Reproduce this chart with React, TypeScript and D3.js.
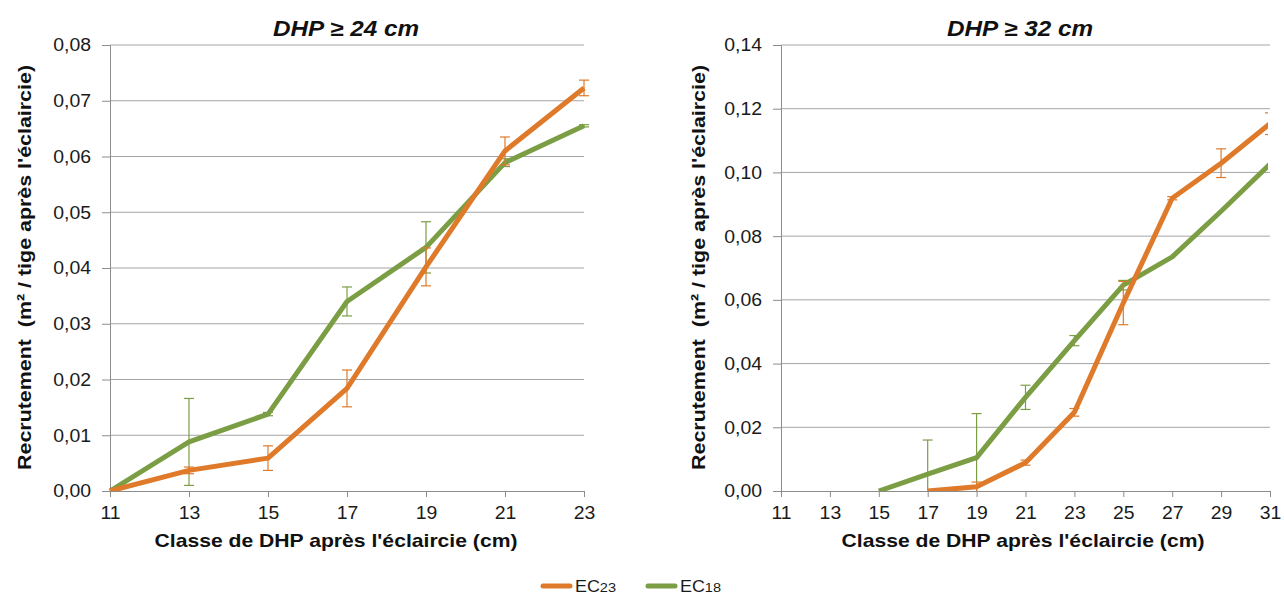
import * as d3 from "d3"
import { useEffect, useRef } from "react"

// Left panel: DHP >= 24 cm
const classesLeft = [11, 13, 15, 17, 19, 21, 23]
const ec23Left = [0, 0.0037, 0.0059, 0.0184, 0.0402, 0.061, 0.0723]
const ec23LeftErr = [0, 0.0006, 0.0022, 0.0033, 0.0034, 0.0025, 0.0014]
const ec18Left = [0, 0.0088, 0.0138, 0.034, 0.0437, 0.0589, 0.0655]
const ec18LeftErr = [0, 0.0078, 0.0003, 0.0026, 0.0046, 0.0007, 0.0002]
const yTicksLeft = [0, 0.01, 0.02, 0.03, 0.04, 0.05, 0.06, 0.07, 0.08]

// Right panel: DHP >= 32 cm
const classesRight = [11, 13, 15, 17, 19, 21, 23, 25, 27, 29, 31]
const ec23Right = [null, null, null, 0, 0.0013, 0.0089, 0.0247, 0.059, 0.0919, 0.1029, 0.1153]
const ec23RightErr = [null, null, null, 0, 0.0015, 0.0008, 0.0012, 0.0068, 0.0005, 0.0045, 0.0034]
const ec18Right = [null, null, 0, 0.0053, 0.0105, 0.0294, 0.0472, 0.0646, 0.0735, 0.0878, 0.1026]
const ec18RightErr = [null, null, 0, 0.0107, 0.0138, 0.0038, 0.0016, 0.0015, 0, 0, 0]
const yTicksRight = [0, 0.02, 0.04, 0.06, 0.08, 0.1, 0.12, 0.14]

const titles = ["DHP ≥ 24 cm", "DHP ≥ 32 cm"]
const xLabel = "Classe de DHP après l'éclaircie (cm)"
const yLabel = "Recrutement \u00a0(m² / tige après l'éclaircie)"

const ORANGE = "#de7a2a"
const GREEN = "#7b9e45"
const FONT = "'Liberation Sans', Arial, sans-serif"
const STRETCH = 1.05

type Panel = {
  classes: number[]
  series: { values: (number | null)[]; err: (number | null)[]; color: string }[]
  yTicks: number[]
  yMax: number
  left: number
  right: number
  title: string
  titleX: number
  xLabelX: number
  yLabelX: number
  clipRight: number
}

const fmt = (d: number) => d.toFixed(2).replace(".", ",")

export default function App() {
  const svgRef = useRef<SVGSVGElement>(null)

  useEffect(() => {
    if (!svgRef.current) return
    const root = d3.select(svgRef.current)
    root.selectAll("*").remove()

    const top = 45
    const bottom = 491

    const panels: Panel[] = [
      {
        classes: classesLeft,
        series: [
          { values: ec18Left, err: ec18LeftErr, color: GREEN },
          { values: ec23Left, err: ec23LeftErr, color: ORANGE },
        ],
        yTicks: yTicksLeft,
        yMax: 0.08,
        left: 110,
        right: 584,
        title: titles[0],
        titleX: 346,
        xLabelX: 336,
        yLabelX: 31,
        clipRight: 600,
      },
      {
        classes: classesRight,
        series: [
          { values: ec18Right, err: ec18RightErr, color: GREEN },
          { values: ec23Right, err: ec23RightErr, color: ORANGE },
        ],
        yTicks: yTicksRight,
        yMax: 0.14,
        left: 781,
        right: 1270,
        title: titles[1],
        titleX: 1020,
        xLabelX: 1023,
        yLabelX: 705,
        clipRight: 1268,
      },
    ]

    panels.forEach((p, pi) => {
      const x = d3.scaleLinear().domain([p.classes[0], p.classes[p.classes.length - 1]]).range([p.left, p.right])
      const y = d3.scaleLinear().domain([0, p.yMax]).range([bottom, top])
      const g = root.append("g")

      // gridlines
      g.append("g")
        .selectAll("line")
        .data(p.yTicks.slice(1))
        .join("line")
        .attr("x1", p.left)
        .attr("x2", p.right)
        .attr("y1", (d) => y(d))
        .attr("y2", (d) => y(d))
        .attr("stroke", "#a5a5a5")
        .attr("stroke-width", 1)

      // y axis
      const yAxis = g.append("g")
        .attr("transform", `translate(${p.left},0)`)
        .call(d3.axisLeft(y).tickValues(p.yTicks).tickFormat((d) => fmt(d as number)).tickSize(8).tickPadding(10))
      yAxis.select(".domain").attr("stroke", "#8c8c8c")
      yAxis.selectAll(".tick line").attr("stroke", "#8c8c8c")
      yAxis.selectAll("text")
        .attr("font-family", FONT)
        .attr("font-size", 18.5)
        .attr("fill", "#1a1a1a")
        .attr("transform", `scale(${STRETCH},1)`)

      // x axis
      const xAxis = g.append("g")
        .attr("transform", `translate(0,${bottom})`)
        .call(d3.axisBottom(x).tickValues(p.classes).tickFormat((d) => String(d)).tickSize(6).tickPadding(9))
      xAxis.select(".domain").attr("stroke", "#8c8c8c")
      xAxis.selectAll(".tick line").attr("stroke", "#8c8c8c")
      xAxis.selectAll("text")
        .attr("font-family", FONT)
        .attr("font-size", 18.5)
        .attr("fill", "#1a1a1a")
        .attr("transform", `scale(${STRETCH},1)`)

      const clipId = `clip${pi}`
      root.append("clipPath").attr("id", clipId)
        .append("rect")
        .attr("x", p.left - 20)
        .attr("y", top - 20)
        .attr("width", p.clipRight - p.left + 20)
        .attr("height", bottom - top + 20)

      const plot = g.append("g").attr("clip-path", `url(#${clipId})`)

      p.series.forEach((s) => {
        const pts = p.classes
          .map((c, i) => ({ c, v: s.values[i], e: s.err[i] }))
          .filter((d) => d.v !== null) as { c: number; v: number; e: number }[]

        const line = d3.line<{ c: number; v: number }>().x((d) => x(d.c)).y((d) => y(d.v))
        plot.append("path")
          .datum(pts)
          .attr("d", line)
          .attr("fill", "none")
          .attr("stroke", s.color)
          .attr("stroke-width", 5)
          .attr("stroke-linejoin", "round")

        // error bars
        const eb = plot.append("g").attr("stroke", s.color).attr("stroke-width", 1.2)
        pts.filter((d) => d.e > 0).forEach((d) => {
          const y1 = y(d.v + d.e)
          const y2 = Math.min(bottom, y(d.v - d.e))
          eb.append("line").attr("x1", x(d.c)).attr("x2", x(d.c)).attr("y1", y1).attr("y2", y2)
          eb.append("line").attr("x1", x(d.c) - 5).attr("x2", x(d.c) + 5).attr("y1", y1).attr("y2", y1)
          if (y(d.v - d.e) <= bottom)
            eb.append("line").attr("x1", x(d.c) - 5).attr("x2", x(d.c) + 5).attr("y1", y2).attr("y2", y2)
        })
      })

      // title
      g.append("text")
        .attr("x", p.titleX)
        .attr("y", 35.5)
        .attr("text-anchor", "middle")
        .attr("font-family", FONT)
        .attr("font-size", 21.5)
        .attr("font-weight", "bold")
        .attr("font-style", "italic")
        .attr("fill", "#111")
        .attr("textLength", 146)
        .attr("lengthAdjust", "spacingAndGlyphs")
        .text(p.title)

      // x label
      g.append("text")
        .attr("x", p.xLabelX)
        .attr("y", 547)
        .attr("text-anchor", "middle")
        .attr("font-family", FONT)
        .attr("font-size", 18.5)
        .attr("font-weight", "bold")
        .attr("fill", "#111")
        .attr("textLength", 363)
        .attr("lengthAdjust", "spacingAndGlyphs")
        .text(xLabel)

      // y label
      g.append("text")
        .attr("transform", `translate(${p.yLabelX},${267.5}) rotate(-90)`)
        .attr("text-anchor", "middle")
        .attr("font-family", FONT)
        .attr("font-size", 18.5)
        .attr("font-weight", "bold")
        .attr("fill", "#111")
        .attr("textLength", 405)
        .attr("lengthAdjust", "spacingAndGlyphs")
        .text(yLabel)
    })

    // legend
    const legendItems = [
      { base: "EC", sub: "23", color: ORANGE, x: 543 },
      { base: "EC", sub: "18", color: GREEN, x: 648 },
    ]
    const lg = root.append("g")
    legendItems.forEach((it) => {
      lg.append("line")
        .attr("x1", it.x)
        .attr("x2", it.x + 27)
        .attr("y1", 586)
        .attr("y2", 586)
        .attr("stroke", it.color)
        .attr("stroke-width", 5)
        .attr("stroke-linecap", "round")
      const t = lg.append("text")
        .attr("transform", `translate(${it.x + 32},592) scale(1.12,1)`)
        .attr("font-family", FONT)
        .attr("font-size", 16)
        .attr("fill", "#1a1a1a")
      t.append("tspan").text(it.base)
      t.append("tspan").attr("font-size", 13).text(it.sub)
    })
  }, [])

  return (
    <svg
      ref={svgRef}
      width={1284}
      height={598}
      style={{ position: "absolute", left: 0, top: 0, background: "#fff" }}
    />
  )
}
